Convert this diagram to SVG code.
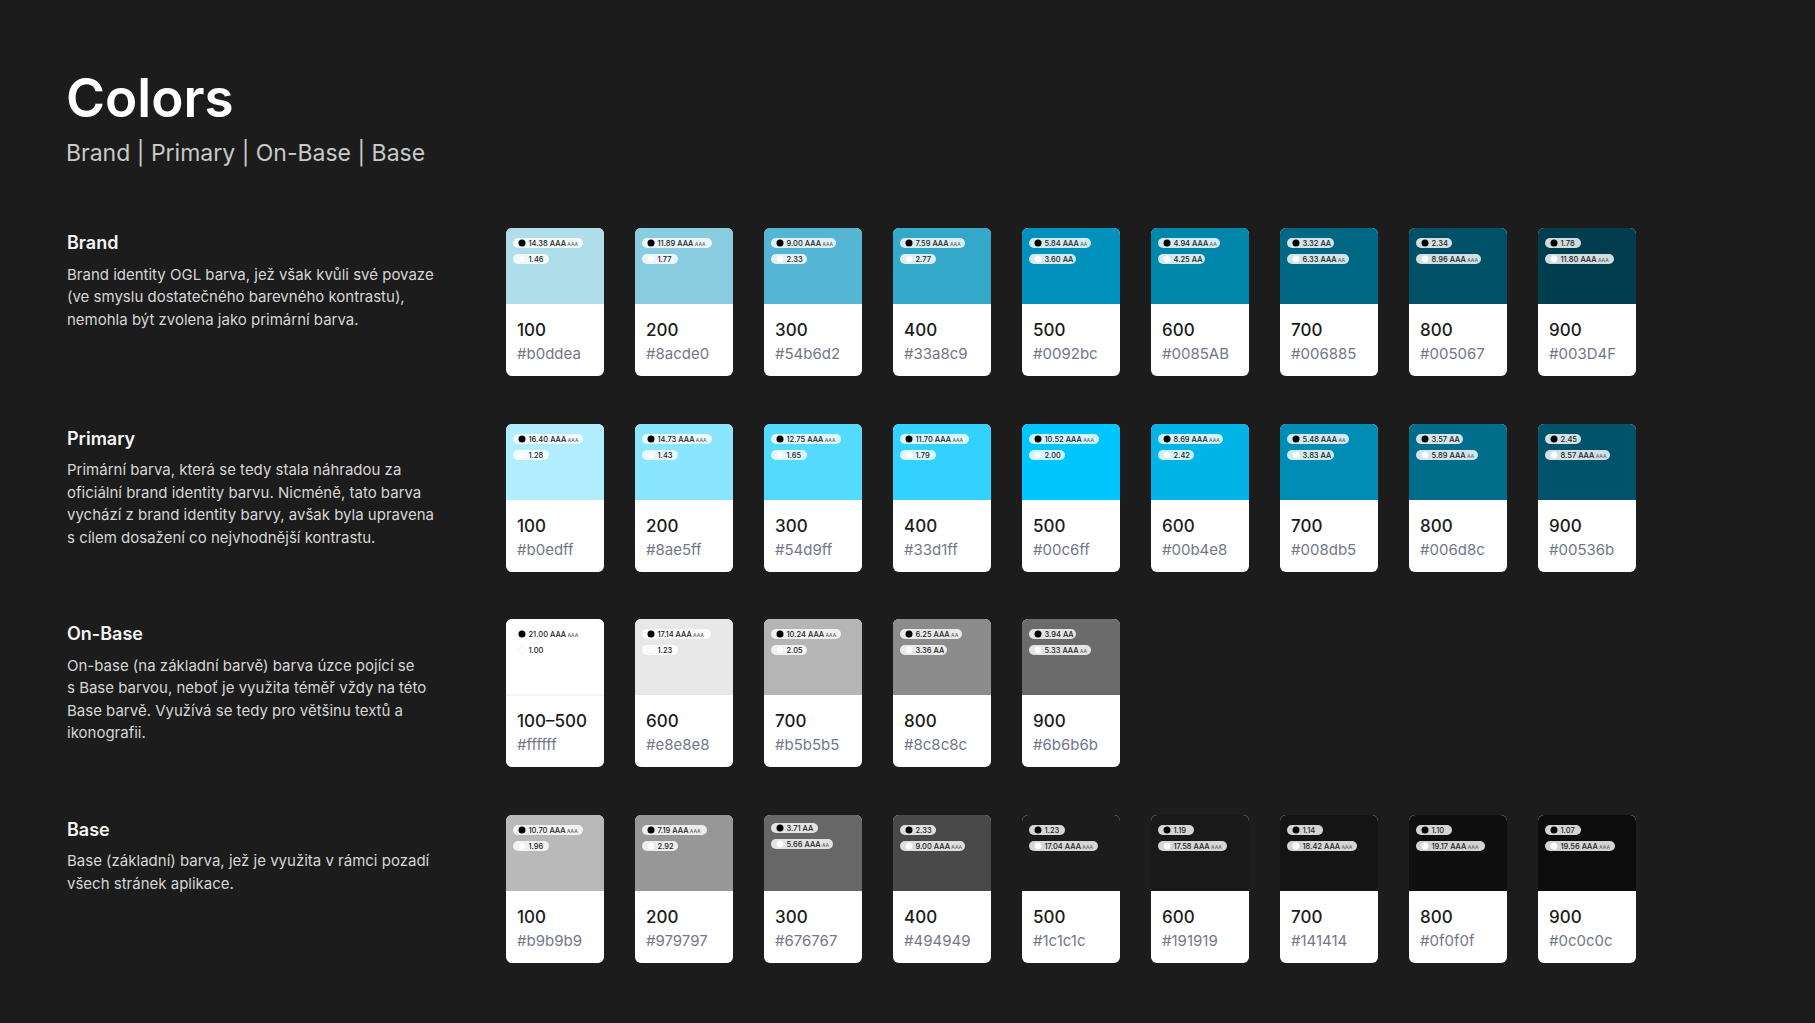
<svg xmlns="http://www.w3.org/2000/svg" xmlns:xlink="http://www.w3.org/1999/xlink" width="1815" height="1023" viewBox="0 0 1815 1023">
<style>
.t{font-family:Inter,"Liberation Sans",sans-serif}
.title{font:600 53px Inter,"Liberation Sans",sans-serif;fill:#ffffff}
.sub{font:400 23px Inter,"Liberation Sans",sans-serif;fill:#c9c9c9}
.h{font:600 18px Inter,"Liberation Sans",sans-serif;fill:#f4f4f4}
.d{font:400 15px Inter,"Liberation Sans",sans-serif;fill:#d6d6d6}
.card{fill:#ffffff}
.pill{fill:#ffffff;fill-opacity:.82}
.dk{fill:#000000}
.lt{fill:#ffffff;stroke:#e4e4e4;stroke-width:.4}
.pt{font:500 7.5px Inter,"Liberation Sans",sans-serif;fill:#222222}
.ps{font-size:5px;fill:#666666}
.num{font:500 17px Inter,"Liberation Sans",sans-serif;fill:#1c1c1c}
.hex{font:400 15px Inter,"Liberation Sans",sans-serif;fill:#72778a}
</style>
<defs>
<path id="sw" d="M0,6 A6,6 0 0 1 6,0 H92 A6,6 0 0 1 98,6 V76 H0 Z"/>
</defs>
<rect width="1815" height="1023" fill="#1c1c1c"/>

<g id="header">
<text class="title" x="66" y="117">Colors</text>
<text class="sub" x="66" y="161">Brand | Primary | On-Base | Base</text>
</g>

<g id="desc-brand">
<text class="h" x="67" y="249">Brand</text>
<text class="d" x="67" y="279.5">Brand identity OGL barva, jež však kvůli své povaze</text>
<text class="d" x="67" y="302">(ve smyslu dostatečného barevného kontrastu),</text>
<text class="d" x="67" y="324.5">nemohla být zvolena jako primární barva.</text>
</g>
<g id="desc-primary">
<text class="h" x="67" y="444.5">Primary</text>
<text class="d" x="67" y="475">Primární barva, která se tedy stala náhradou za</text>
<text class="d" x="67" y="497.6">oficiální brand identity barvu. Nicméně, tato barva</text>
<text class="d" x="67" y="520.2">vychází z brand identity barvy, avšak byla upravena</text>
<text class="d" x="67" y="542.8">s cílem dosažení co nejvhodnější kontrastu.</text>
</g>
<g id="desc-onbase">
<text class="h" x="67" y="640">On-Base</text>
<text class="d" x="67" y="670.6">On-base (na základní barvě) barva úzce pojící se</text>
<text class="d" x="67" y="693.2">s Base barvou, neboť je využita téměř vždy na této</text>
<text class="d" x="67" y="715.8">Base barvě. Využívá se tedy pro většinu textů a</text>
<text class="d" x="67" y="738.4">ikonografii.</text>
</g>
<g id="desc-base">
<text class="h" x="67" y="835.6">Base</text>
<text class="d" x="67" y="866.2">Base (základní) barva, jež je využita v rámci pozadí</text>
<text class="d" x="67" y="888.8">všech stránek aplikace.</text>
</g>

<!-- BRAND -->
<g id="brand-100" transform="translate(506,228)"><rect class="card" width="98" height="148" rx="6"/><use xlink:href="#sw" href="#sw" fill="#b0ddea"/>
<rect class="pill" x="7" y="10" width="70" height="10" rx="5"/><circle class="dk" cx="16" cy="15" r="3.5"/><text class="pt" x="22.5" y="17.7">14.38 AAA<tspan class="ps"> AAA</tspan></text>
<rect class="pill" x="7" y="26" width="36" height="10" rx="5"/><circle class="lt" cx="16" cy="31" r="3.5"/><text class="pt" x="22.5" y="33.7">1.46</text>
<text class="num" x="11" y="107.7">100</text><text class="hex" x="11" y="131.3">#b0ddea</text></g>
<g id="brand-200" transform="translate(635,228)"><rect class="card" width="98" height="148" rx="6"/><use xlink:href="#sw" href="#sw" fill="#8acde0"/>
<rect class="pill" x="7" y="10" width="70" height="10" rx="5"/><circle class="dk" cx="16" cy="15" r="3.5"/><text class="pt" x="22.5" y="17.7">11.89 AAA<tspan class="ps"> AAA</tspan></text>
<rect class="pill" x="7" y="26" width="36" height="10" rx="5"/><circle class="lt" cx="16" cy="31" r="3.5"/><text class="pt" x="22.5" y="33.7">1.77</text>
<text class="num" x="11" y="107.7">200</text><text class="hex" x="11" y="131.3">#8acde0</text></g>
<g id="brand-300" transform="translate(764,228)"><rect class="card" width="98" height="148" rx="6"/><use xlink:href="#sw" href="#sw" fill="#54b6d2"/>
<rect class="pill" x="7" y="10" width="65" height="10" rx="5"/><circle class="dk" cx="16" cy="15" r="3.5"/><text class="pt" x="22.5" y="17.7">9.00 AAA<tspan class="ps"> AAA</tspan></text>
<rect class="pill" x="7" y="26" width="36" height="10" rx="5"/><circle class="lt" cx="16" cy="31" r="3.5"/><text class="pt" x="22.5" y="33.7">2.33</text>
<text class="num" x="11" y="107.7">300</text><text class="hex" x="11" y="131.3">#54b6d2</text></g>
<g id="brand-400" transform="translate(893,228)"><rect class="card" width="98" height="148" rx="6"/><use xlink:href="#sw" href="#sw" fill="#33a8c9"/>
<rect class="pill" x="7" y="10" width="65" height="10" rx="5"/><circle class="dk" cx="16" cy="15" r="3.5"/><text class="pt" x="22.5" y="17.7">7.59 AAA<tspan class="ps"> AAA</tspan></text>
<rect class="pill" x="7" y="26" width="36" height="10" rx="5"/><circle class="lt" cx="16" cy="31" r="3.5"/><text class="pt" x="22.5" y="33.7">2.77</text>
<text class="num" x="11" y="107.7">400</text><text class="hex" x="11" y="131.3">#33a8c9</text></g>
<g id="brand-500" transform="translate(1022,228)"><rect class="card" width="98" height="148" rx="6"/><use xlink:href="#sw" href="#sw" fill="#0092bc"/>
<rect class="pill" x="7" y="10" width="62" height="10" rx="5"/><circle class="dk" cx="16" cy="15" r="3.5"/><text class="pt" x="22.5" y="17.7">5.84 AAA<tspan class="ps"> AA</tspan></text>
<rect class="pill" x="7" y="26" width="47" height="10" rx="5"/><circle class="lt" cx="16" cy="31" r="3.5"/><text class="pt" x="22.5" y="33.7">3.60 AA</text>
<text class="num" x="11" y="107.7">500</text><text class="hex" x="11" y="131.3">#0092bc</text></g>
<g id="brand-600" transform="translate(1151,228)"><rect class="card" width="98" height="148" rx="6"/><use xlink:href="#sw" href="#sw" fill="#0085AB"/>
<rect class="pill" x="7" y="10" width="62" height="10" rx="5"/><circle class="dk" cx="16" cy="15" r="3.5"/><text class="pt" x="22.5" y="17.7">4.94 AAA<tspan class="ps"> AA</tspan></text>
<rect class="pill" x="7" y="26" width="47" height="10" rx="5"/><circle class="lt" cx="16" cy="31" r="3.5"/><text class="pt" x="22.5" y="33.7">4.25 AA</text>
<text class="num" x="11" y="107.7">600</text><text class="hex" x="11" y="131.3">#0085AB</text></g>
<g id="brand-700" transform="translate(1280,228)"><rect class="card" width="98" height="148" rx="6"/><use xlink:href="#sw" href="#sw" fill="#006885"/>
<rect class="pill" x="7" y="10" width="47" height="10" rx="5"/><circle class="dk" cx="16" cy="15" r="3.5"/><text class="pt" x="22.5" y="17.7">3.32 AA</text>
<rect class="pill" x="7" y="26" width="62" height="10" rx="5"/><circle class="lt" cx="16" cy="31" r="3.5"/><text class="pt" x="22.5" y="33.7">6.33 AAA<tspan class="ps"> AA</tspan></text>
<text class="num" x="11" y="107.7">700</text><text class="hex" x="11" y="131.3">#006885</text></g>
<g id="brand-800" transform="translate(1409,228)"><rect class="card" width="98" height="148" rx="6"/><use xlink:href="#sw" href="#sw" fill="#005067"/>
<rect class="pill" x="7" y="10" width="36" height="10" rx="5"/><circle class="dk" cx="16" cy="15" r="3.5"/><text class="pt" x="22.5" y="17.7">2.34</text>
<rect class="pill" x="7" y="26" width="65" height="10" rx="5"/><circle class="lt" cx="16" cy="31" r="3.5"/><text class="pt" x="22.5" y="33.7">8.96 AAA<tspan class="ps"> AAA</tspan></text>
<text class="num" x="11" y="107.7">800</text><text class="hex" x="11" y="131.3">#005067</text></g>
<g id="brand-900" transform="translate(1538,228)"><rect class="card" width="98" height="148" rx="6"/><use xlink:href="#sw" href="#sw" fill="#003D4F"/>
<rect class="pill" x="7" y="10" width="36" height="10" rx="5"/><circle class="dk" cx="16" cy="15" r="3.5"/><text class="pt" x="22.5" y="17.7">1.78</text>
<rect class="pill" x="7" y="26" width="69" height="10" rx="5"/><circle class="lt" cx="16" cy="31" r="3.5"/><text class="pt" x="22.5" y="33.7">11.80 AAA<tspan class="ps"> AAA</tspan></text>
<text class="num" x="11" y="107.7">900</text><text class="hex" x="11" y="131.3">#003D4F</text></g>

<!-- PRIMARY -->
<g id="primary-100" transform="translate(506,424)"><rect class="card" width="98" height="148" rx="6"/><use xlink:href="#sw" href="#sw" fill="#b0edff"/>
<rect class="pill" x="7" y="10" width="70" height="10" rx="5"/><circle class="dk" cx="16" cy="15" r="3.5"/><text class="pt" x="22.5" y="17.7">16.40 AAA<tspan class="ps"> AAA</tspan></text>
<rect class="pill" x="7" y="26" width="36" height="10" rx="5"/><circle class="lt" cx="16" cy="31" r="3.5"/><text class="pt" x="22.5" y="33.7">1.28</text>
<text class="num" x="11" y="107.7">100</text><text class="hex" x="11" y="131.3">#b0edff</text></g>
<g id="primary-200" transform="translate(635,424)"><rect class="card" width="98" height="148" rx="6"/><use xlink:href="#sw" href="#sw" fill="#8ae5ff"/>
<rect class="pill" x="7" y="10" width="70" height="10" rx="5"/><circle class="dk" cx="16" cy="15" r="3.5"/><text class="pt" x="22.5" y="17.7">14.73 AAA<tspan class="ps"> AAA</tspan></text>
<rect class="pill" x="7" y="26" width="36" height="10" rx="5"/><circle class="lt" cx="16" cy="31" r="3.5"/><text class="pt" x="22.5" y="33.7">1.43</text>
<text class="num" x="11" y="107.7">200</text><text class="hex" x="11" y="131.3">#8ae5ff</text></g>
<g id="primary-300" transform="translate(764,424)"><rect class="card" width="98" height="148" rx="6"/><use xlink:href="#sw" href="#sw" fill="#54d9ff"/>
<rect class="pill" x="7" y="10" width="70" height="10" rx="5"/><circle class="dk" cx="16" cy="15" r="3.5"/><text class="pt" x="22.5" y="17.7">12.75 AAA<tspan class="ps"> AAA</tspan></text>
<rect class="pill" x="7" y="26" width="36" height="10" rx="5"/><circle class="lt" cx="16" cy="31" r="3.5"/><text class="pt" x="22.5" y="33.7">1.65</text>
<text class="num" x="11" y="107.7">300</text><text class="hex" x="11" y="131.3">#54d9ff</text></g>
<g id="primary-400" transform="translate(893,424)"><rect class="card" width="98" height="148" rx="6"/><use xlink:href="#sw" href="#sw" fill="#33d1ff"/>
<rect class="pill" x="7" y="10" width="69" height="10" rx="5"/><circle class="dk" cx="16" cy="15" r="3.5"/><text class="pt" x="22.5" y="17.7">11.70 AAA<tspan class="ps"> AAA</tspan></text>
<rect class="pill" x="7" y="26" width="36" height="10" rx="5"/><circle class="lt" cx="16" cy="31" r="3.5"/><text class="pt" x="22.5" y="33.7">1.79</text>
<text class="num" x="11" y="107.7">400</text><text class="hex" x="11" y="131.3">#33d1ff</text></g>
<g id="primary-500" transform="translate(1022,424)"><rect class="card" width="98" height="148" rx="6"/><use xlink:href="#sw" href="#sw" fill="#00c6ff"/>
<rect class="pill" x="7" y="10" width="70" height="10" rx="5"/><circle class="dk" cx="16" cy="15" r="3.5"/><text class="pt" x="22.5" y="17.7">10.52 AAA<tspan class="ps"> AAA</tspan></text>
<rect class="pill" x="7" y="26" width="36" height="10" rx="5"/><circle class="lt" cx="16" cy="31" r="3.5"/><text class="pt" x="22.5" y="33.7">2.00</text>
<text class="num" x="11" y="107.7">500</text><text class="hex" x="11" y="131.3">#00c6ff</text></g>
<g id="primary-600" transform="translate(1151,424)"><rect class="card" width="98" height="148" rx="6"/><use xlink:href="#sw" href="#sw" fill="#00b4e8"/>
<rect class="pill" x="7" y="10" width="65" height="10" rx="5"/><circle class="dk" cx="16" cy="15" r="3.5"/><text class="pt" x="22.5" y="17.7">8.69 AAA<tspan class="ps"> AAA</tspan></text>
<rect class="pill" x="7" y="26" width="36" height="10" rx="5"/><circle class="lt" cx="16" cy="31" r="3.5"/><text class="pt" x="22.5" y="33.7">2.42</text>
<text class="num" x="11" y="107.7">600</text><text class="hex" x="11" y="131.3">#00b4e8</text></g>
<g id="primary-700" transform="translate(1280,424)"><rect class="card" width="98" height="148" rx="6"/><use xlink:href="#sw" href="#sw" fill="#008db5"/>
<rect class="pill" x="7" y="10" width="62" height="10" rx="5"/><circle class="dk" cx="16" cy="15" r="3.5"/><text class="pt" x="22.5" y="17.7">5.48 AAA<tspan class="ps"> AA</tspan></text>
<rect class="pill" x="7" y="26" width="47" height="10" rx="5"/><circle class="lt" cx="16" cy="31" r="3.5"/><text class="pt" x="22.5" y="33.7">3.83 AA</text>
<text class="num" x="11" y="107.7">700</text><text class="hex" x="11" y="131.3">#008db5</text></g>
<g id="primary-800" transform="translate(1409,424)"><rect class="card" width="98" height="148" rx="6"/><use xlink:href="#sw" href="#sw" fill="#006d8c"/>
<rect class="pill" x="7" y="10" width="47" height="10" rx="5"/><circle class="dk" cx="16" cy="15" r="3.5"/><text class="pt" x="22.5" y="17.7">3.57 AA</text>
<rect class="pill" x="7" y="26" width="62" height="10" rx="5"/><circle class="lt" cx="16" cy="31" r="3.5"/><text class="pt" x="22.5" y="33.7">5.89 AAA<tspan class="ps"> AA</tspan></text>
<text class="num" x="11" y="107.7">800</text><text class="hex" x="11" y="131.3">#006d8c</text></g>
<g id="primary-900" transform="translate(1538,424)"><rect class="card" width="98" height="148" rx="6"/><use xlink:href="#sw" href="#sw" fill="#00536b"/>
<rect class="pill" x="7" y="10" width="36" height="10" rx="5"/><circle class="dk" cx="16" cy="15" r="3.5"/><text class="pt" x="22.5" y="17.7">2.45</text>
<rect class="pill" x="7" y="26" width="65" height="10" rx="5"/><circle class="lt" cx="16" cy="31" r="3.5"/><text class="pt" x="22.5" y="33.7">8.57 AAA<tspan class="ps"> AAA</tspan></text>
<text class="num" x="11" y="107.7">900</text><text class="hex" x="11" y="131.3">#00536b</text></g>

<!-- ON-BASE -->
<g id="onbase-100-500" transform="translate(506,619)"><rect class="card" width="98" height="148" rx="6"/><use xlink:href="#sw" href="#sw" fill="#ffffff"/>
<path d="M0,76 H98" stroke="#ececec" stroke-width="1"/>
<rect class="pill" x="7" y="10" width="70" height="10" rx="5"/><circle class="dk" cx="16" cy="15" r="3.5"/><text class="pt" x="22.5" y="17.7">21.00 AAA<tspan class="ps"> AAA</tspan></text>
<rect class="pill" x="7" y="26" width="36" height="10" rx="5"/><circle class="lt" cx="16" cy="31" r="3.5"/><text class="pt" x="22.5" y="33.7">1.00</text>
<text class="num" x="11" y="107.7">100–500</text><text class="hex" x="11" y="131.3">#ffffff</text></g>
<g id="onbase-600" transform="translate(635,619)"><rect class="card" width="98" height="148" rx="6"/><use xlink:href="#sw" href="#sw" fill="#e8e8e8"/>
<rect class="pill" x="7" y="10" width="69" height="10" rx="5"/><circle class="dk" cx="16" cy="15" r="3.5"/><text class="pt" x="22.5" y="17.7">17.14 AAA<tspan class="ps"> AAA</tspan></text>
<rect class="pill" x="7" y="26" width="36" height="10" rx="5"/><circle class="lt" cx="16" cy="31" r="3.5"/><text class="pt" x="22.5" y="33.7">1.23</text>
<text class="num" x="11" y="107.7">600</text><text class="hex" x="11" y="131.3">#e8e8e8</text></g>
<g id="onbase-700" transform="translate(764,619)"><rect class="card" width="98" height="148" rx="6"/><use xlink:href="#sw" href="#sw" fill="#b5b5b5"/>
<rect class="pill" x="7" y="10" width="70" height="10" rx="5"/><circle class="dk" cx="16" cy="15" r="3.5"/><text class="pt" x="22.5" y="17.7">10.24 AAA<tspan class="ps"> AAA</tspan></text>
<rect class="pill" x="7" y="26" width="36" height="10" rx="5"/><circle class="lt" cx="16" cy="31" r="3.5"/><text class="pt" x="22.5" y="33.7">2.05</text>
<text class="num" x="11" y="107.7">700</text><text class="hex" x="11" y="131.3">#b5b5b5</text></g>
<g id="onbase-800" transform="translate(893,619)"><rect class="card" width="98" height="148" rx="6"/><use xlink:href="#sw" href="#sw" fill="#8c8c8c"/>
<rect class="pill" x="7" y="10" width="62" height="10" rx="5"/><circle class="dk" cx="16" cy="15" r="3.5"/><text class="pt" x="22.5" y="17.7">6.25 AAA<tspan class="ps"> AA</tspan></text>
<rect class="pill" x="7" y="26" width="47" height="10" rx="5"/><circle class="lt" cx="16" cy="31" r="3.5"/><text class="pt" x="22.5" y="33.7">3.36 AA</text>
<text class="num" x="11" y="107.7">800</text><text class="hex" x="11" y="131.3">#8c8c8c</text></g>
<g id="onbase-900" transform="translate(1022,619)"><rect class="card" width="98" height="148" rx="6"/><use xlink:href="#sw" href="#sw" fill="#6b6b6b"/>
<rect class="pill" x="7" y="10" width="47" height="10" rx="5"/><circle class="dk" cx="16" cy="15" r="3.5"/><text class="pt" x="22.5" y="17.7">3.94 AA</text>
<rect class="pill" x="7" y="26" width="62" height="10" rx="5"/><circle class="lt" cx="16" cy="31" r="3.5"/><text class="pt" x="22.5" y="33.7">5.33 AAA<tspan class="ps"> AA</tspan></text>
<text class="num" x="11" y="107.7">900</text><text class="hex" x="11" y="131.3">#6b6b6b</text></g>

<!-- BASE -->
<g id="base-100" transform="translate(506,815)"><rect class="card" width="98" height="148" rx="6"/><use xlink:href="#sw" href="#sw" fill="#b9b9b9"/>
<rect class="pill" x="7" y="10" width="70" height="10" rx="5"/><circle class="dk" cx="16" cy="15" r="3.5"/><text class="pt" x="22.5" y="17.7">10.70 AAA<tspan class="ps"> AAA</tspan></text>
<rect class="pill" x="7" y="26" width="36" height="10" rx="5"/><circle class="lt" cx="16" cy="31" r="3.5"/><text class="pt" x="22.5" y="33.7">1.96</text>
<text class="num" x="11" y="107.7">100</text><text class="hex" x="11" y="131.3">#b9b9b9</text></g>
<g id="base-200" transform="translate(635,815)"><rect class="card" width="98" height="148" rx="6"/><use xlink:href="#sw" href="#sw" fill="#979797"/>
<rect class="pill" x="7" y="10" width="65" height="10" rx="5"/><circle class="dk" cx="16" cy="15" r="3.5"/><text class="pt" x="22.5" y="17.7">7.19 AAA<tspan class="ps"> AAA</tspan></text>
<rect class="pill" x="7" y="26" width="36" height="10" rx="5"/><circle class="lt" cx="16" cy="31" r="3.5"/><text class="pt" x="22.5" y="33.7">2.92</text>
<text class="num" x="11" y="107.7">200</text><text class="hex" x="11" y="131.3">#979797</text></g>
<g id="base-300" transform="translate(764,815)"><rect class="card" width="98" height="148" rx="6"/><use xlink:href="#sw" href="#sw" fill="#676767"/>
<rect class="pill" x="7" y="8" width="47" height="10" rx="5"/><circle class="dk" cx="16" cy="13" r="3.5"/><text class="pt" x="22.5" y="15.7">3.71 AA</text>
<rect class="pill" x="7" y="24" width="62" height="10" rx="5"/><circle class="lt" cx="16" cy="29" r="3.5"/><text class="pt" x="22.5" y="31.7">5.66 AAA<tspan class="ps"> AA</tspan></text>
<text class="num" x="11" y="107.7">300</text><text class="hex" x="11" y="131.3">#676767</text></g>
<g id="base-400" transform="translate(893,815)"><rect class="card" width="98" height="148" rx="6"/><use xlink:href="#sw" href="#sw" fill="#494949"/>
<rect class="pill" x="7" y="10" width="36" height="10" rx="5"/><circle class="dk" cx="16" cy="15" r="3.5"/><text class="pt" x="22.5" y="17.7">2.33</text>
<rect class="pill" x="7" y="26" width="65" height="10" rx="5"/><circle class="lt" cx="16" cy="31" r="3.5"/><text class="pt" x="22.5" y="33.7">9.00 AAA<tspan class="ps"> AAA</tspan></text>
<text class="num" x="11" y="107.7">400</text><text class="hex" x="11" y="131.3">#494949</text></g>
<g id="base-500" transform="translate(1022,815)"><rect class="card" width="98" height="148" rx="6"/><use xlink:href="#sw" href="#sw" fill="#1c1c1c"/>
<rect class="pill" x="7" y="10" width="36" height="10" rx="5"/><circle class="dk" cx="16" cy="15" r="3.5"/><text class="pt" x="22.5" y="17.7">1.23</text>
<rect class="pill" x="7" y="26" width="69" height="10" rx="5"/><circle class="lt" cx="16" cy="31" r="3.5"/><text class="pt" x="22.5" y="33.7">17.04 AAA<tspan class="ps"> AAA</tspan></text>
<text class="num" x="11" y="107.7">500</text><text class="hex" x="11" y="131.3">#1c1c1c</text></g>
<g id="base-600" transform="translate(1151,815)"><rect class="card" width="98" height="148" rx="6"/><use xlink:href="#sw" href="#sw" fill="#191919"/>
<rect class="pill" x="7" y="10" width="36" height="10" rx="5"/><circle class="dk" cx="16" cy="15" r="3.5"/><text class="pt" x="22.5" y="17.7">1.19</text>
<rect class="pill" x="7" y="26" width="69" height="10" rx="5"/><circle class="lt" cx="16" cy="31" r="3.5"/><text class="pt" x="22.5" y="33.7">17.58 AAA<tspan class="ps"> AAA</tspan></text>
<text class="num" x="11" y="107.7">600</text><text class="hex" x="11" y="131.3">#191919</text></g>
<g id="base-700" transform="translate(1280,815)"><rect class="card" width="98" height="148" rx="6"/><use xlink:href="#sw" href="#sw" fill="#141414"/>
<rect class="pill" x="7" y="10" width="36" height="10" rx="5"/><circle class="dk" cx="16" cy="15" r="3.5"/><text class="pt" x="22.5" y="17.7">1.14</text>
<rect class="pill" x="7" y="26" width="70" height="10" rx="5"/><circle class="lt" cx="16" cy="31" r="3.5"/><text class="pt" x="22.5" y="33.7">18.42 AAA<tspan class="ps"> AAA</tspan></text>
<text class="num" x="11" y="107.7">700</text><text class="hex" x="11" y="131.3">#141414</text></g>
<g id="base-800" transform="translate(1409,815)"><rect class="card" width="98" height="148" rx="6"/><use xlink:href="#sw" href="#sw" fill="#0f0f0f"/>
<rect class="pill" x="7" y="10" width="36" height="10" rx="5"/><circle class="dk" cx="16" cy="15" r="3.5"/><text class="pt" x="22.5" y="17.7">1.10</text>
<rect class="pill" x="7" y="26" width="69" height="10" rx="5"/><circle class="lt" cx="16" cy="31" r="3.5"/><text class="pt" x="22.5" y="33.7">19.17 AAA<tspan class="ps"> AAA</tspan></text>
<text class="num" x="11" y="107.7">800</text><text class="hex" x="11" y="131.3">#0f0f0f</text></g>
<g id="base-900" transform="translate(1538,815)"><rect class="card" width="98" height="148" rx="6"/><use xlink:href="#sw" href="#sw" fill="#0c0c0c"/>
<rect class="pill" x="7" y="10" width="36" height="10" rx="5"/><circle class="dk" cx="16" cy="15" r="3.5"/><text class="pt" x="22.5" y="17.7">1.07</text>
<rect class="pill" x="7" y="26" width="70" height="10" rx="5"/><circle class="lt" cx="16" cy="31" r="3.5"/><text class="pt" x="22.5" y="33.7">19.56 AAA<tspan class="ps"> AAA</tspan></text>
<text class="num" x="11" y="107.7">900</text><text class="hex" x="11" y="131.3">#0c0c0c</text></g>

<g id="connectors"/>
</svg>
